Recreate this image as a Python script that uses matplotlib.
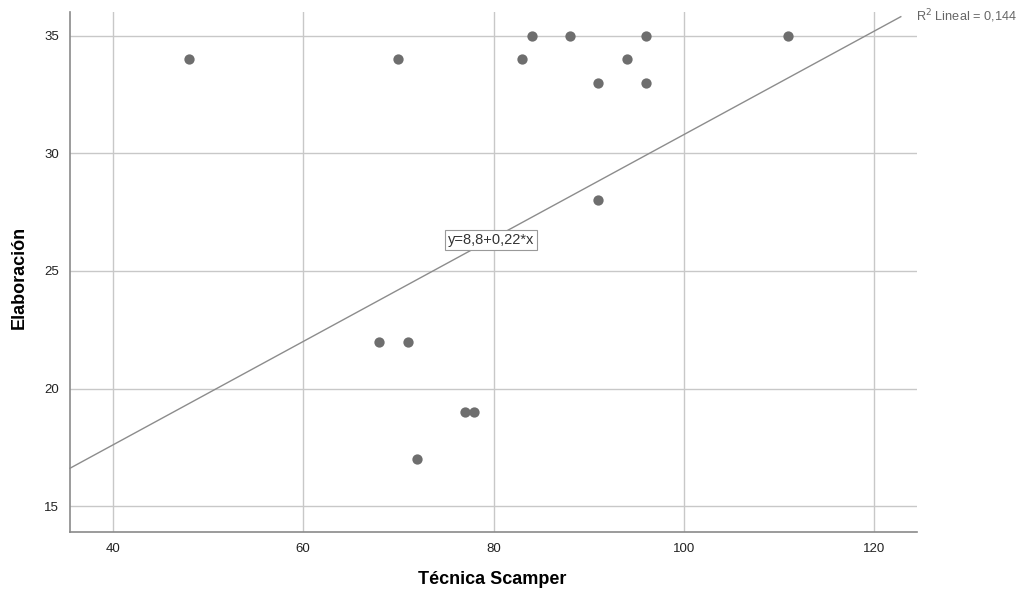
import matplotlib
matplotlib.use("Agg")
import matplotlib.pyplot as plt
import numpy as np

plt.rcParams['font.family'] = ['Liberation Sans', 'DejaVu Sans']

# data
scamper = [48, 70, 83, 84, 88, 94, 91, 96, 96, 111, 91, 68, 71, 77, 78, 72]
elaboracion = [34, 34, 34, 35, 35, 34, 33, 35, 33, 35, 28, 22, 22, 19, 19, 17]
intercept = 8.8
slope = 0.22
r2_text = "R$^2$ Lineal = 0,144"
eq_text = "y=8,8+0,22*x"

fig = plt.figure(figsize=(10.21, 5.95), dpi=100)
ax = fig.add_axes([0.0686, 0.106, 0.8295, 0.874])

ax.set_xlim(35.5, 124.5)
ax.set_ylim(13.9, 36.02)
ax.set_xticks([40, 60, 80, 100, 120])
ax.set_yticks([15, 20, 25, 30, 35])

ax.grid(True, color="#c8c8c8", linewidth=1.0)
ax.set_axisbelow(True)
for s in ["top", "right"]:
    ax.spines[s].set_visible(False)
for s in ["left", "bottom"]:
    ax.spines[s].set_color("#8a8a8a")
    ax.spines[s].set_linewidth(1.2)
ax.tick_params(length=0, labelsize=9.5, colors="#222222", pad=8)

ax.scatter(scamper, elaboracion, s=55, color="#6e6e6e", zorder=3, linewidths=0)

xs = np.array([35.5, 122.8])
ax.plot(xs, intercept + slope * xs, color="#8c8c8c", linewidth=1.0, clip_on=False, zorder=2)

ax.text(79.7, 26.3, eq_text, fontsize=10.5, ha="center", va="center", color="#333333",
        bbox=dict(boxstyle="square,pad=0.2", facecolor="white", edgecolor="#999999", linewidth=0.8), zorder=4)
fig.text(0.897, 0.972, r2_text, fontsize=9.2, color="#666666", ha="left", va="center")

ax.set_xlabel("Técnica Scamper", fontsize=13, fontweight="bold", va="center")
ax.set_ylabel("Elaboración", fontsize=13, fontweight="bold", va="center")
ax.xaxis.set_label_coords(0.498, -0.092)
ax.yaxis.set_label_coords(-0.06, 0.49)

fig.savefig("out.png", dpi=100)
